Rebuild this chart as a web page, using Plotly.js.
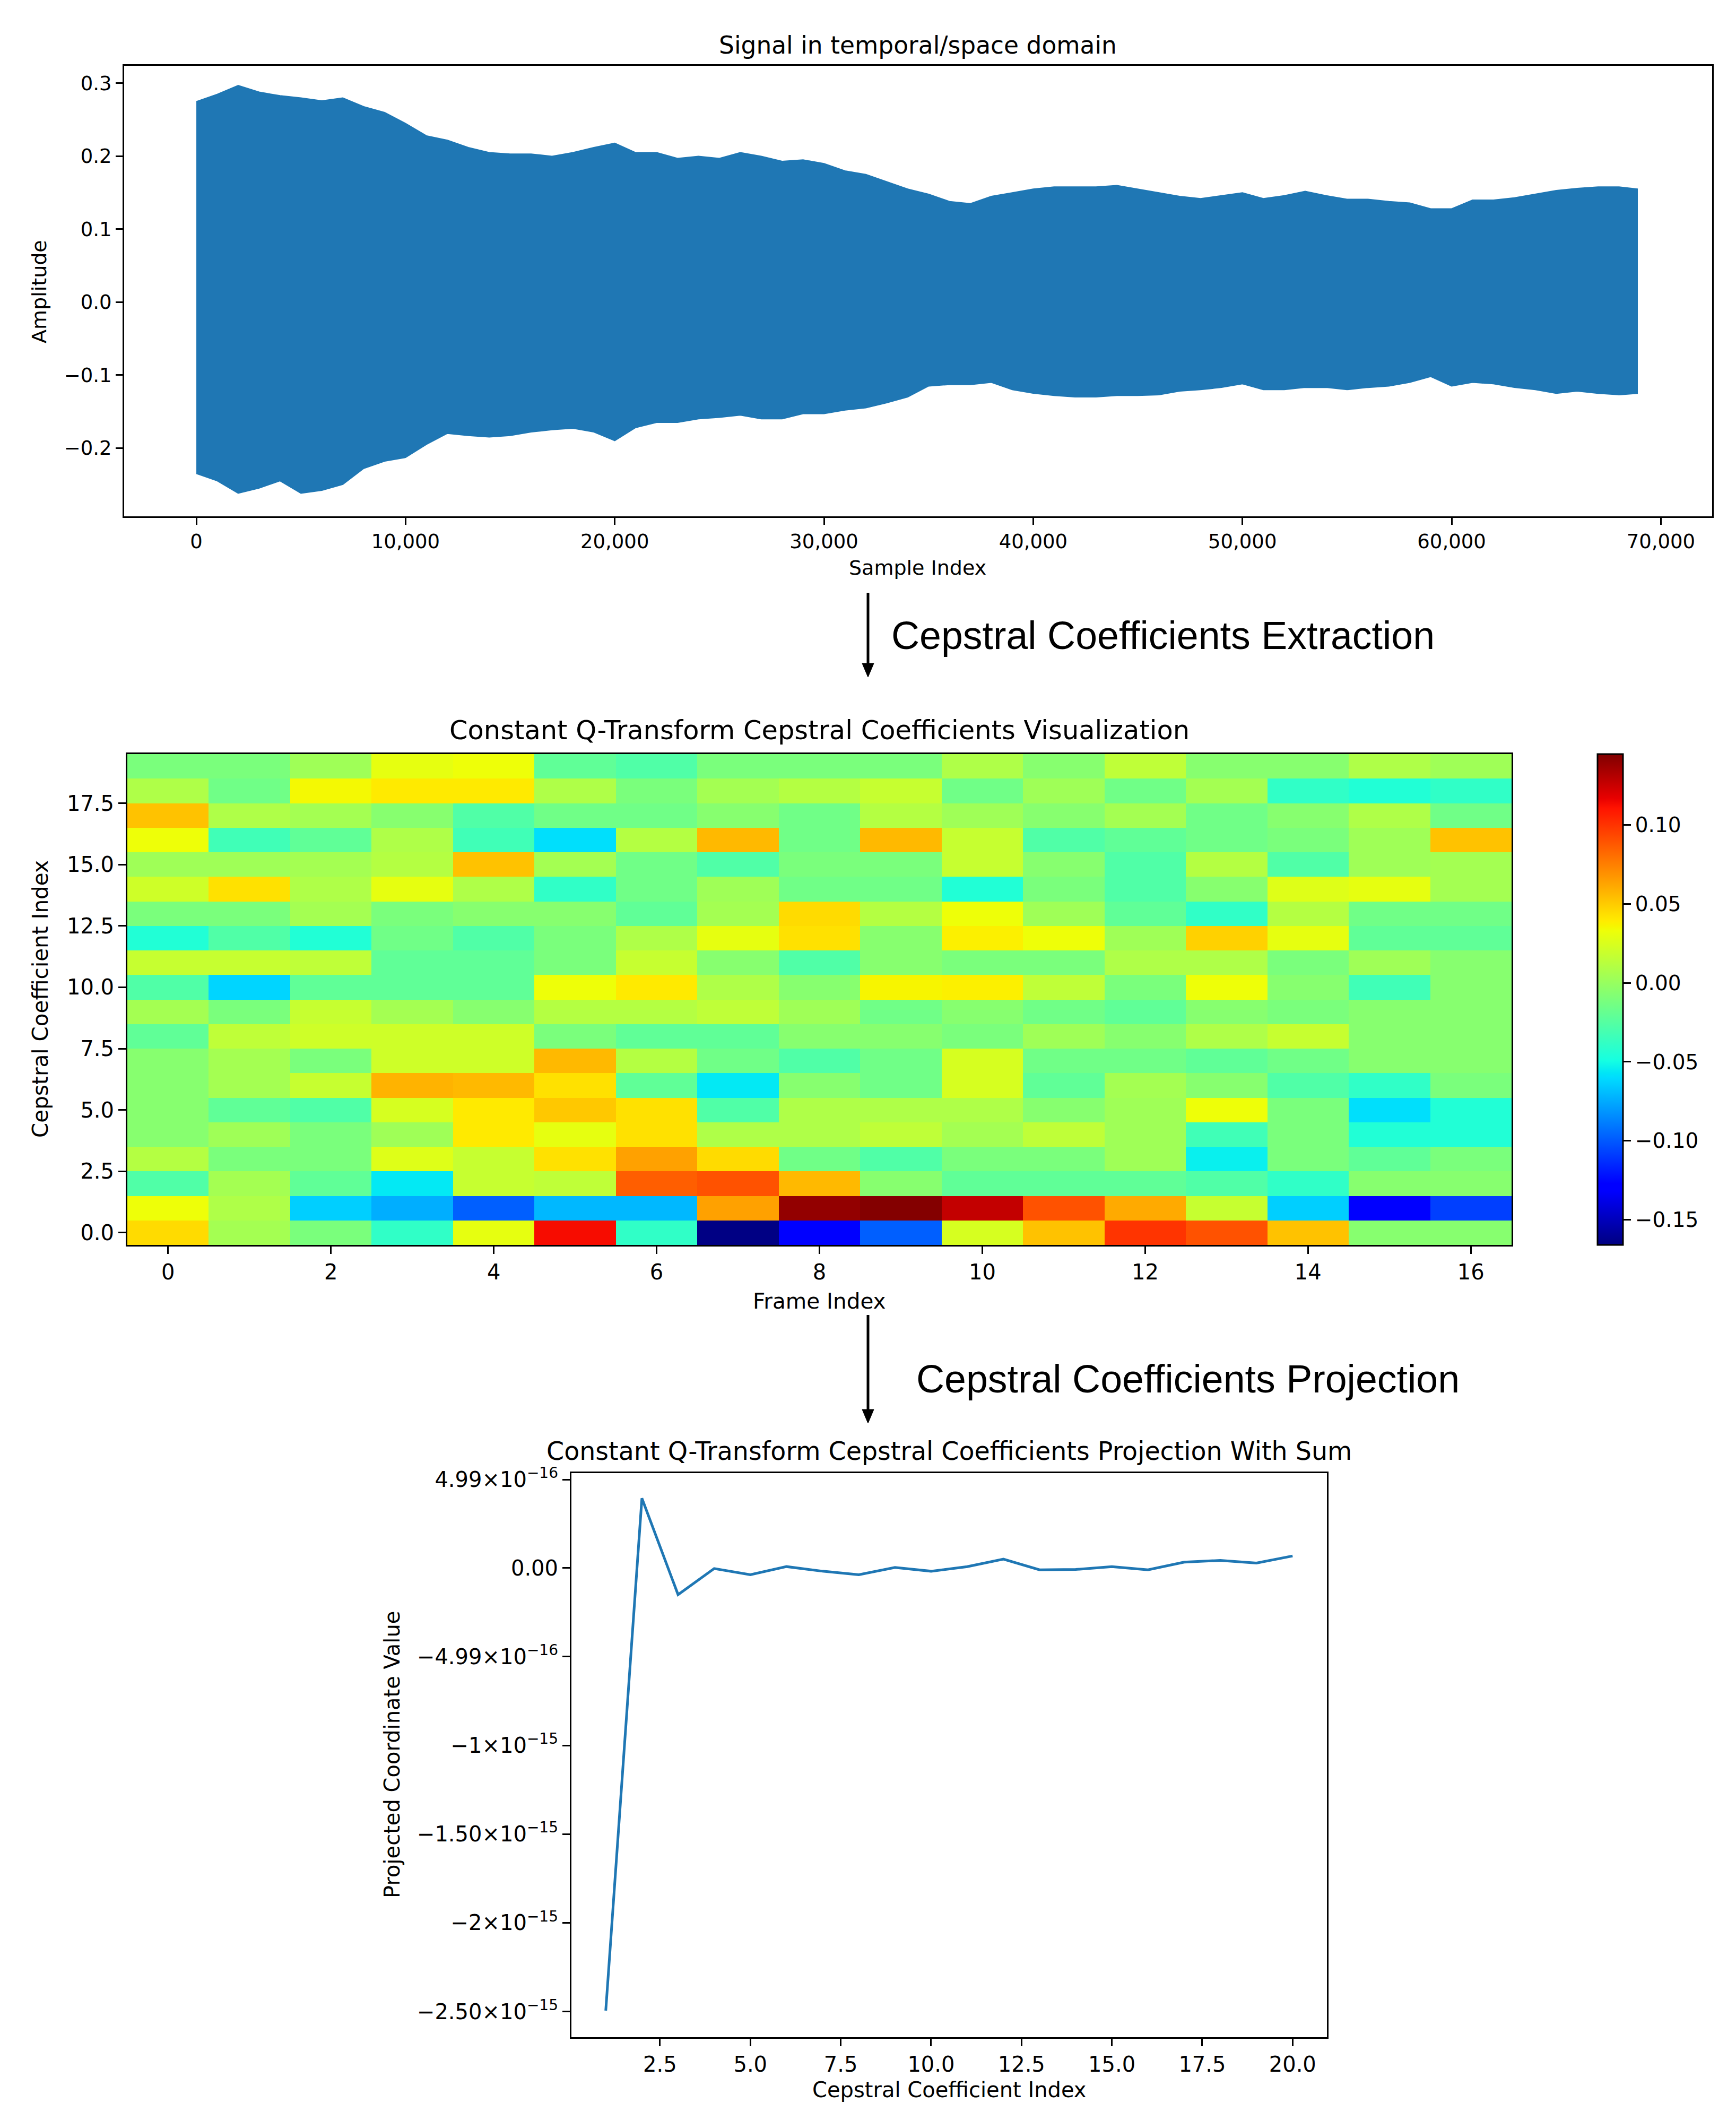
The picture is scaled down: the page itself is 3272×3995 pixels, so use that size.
<!DOCTYPE html>
<html><head><meta charset="utf-8">
<script src="https://cdn.plot.ly/plotly-3.0.1.min.js"></script>
<style>html,body{margin:0;padding:0;background:#fff}#chart{width:3272px;height:3995px}</style>
</head><body><div id="chart"></div>
<script>
const W = 3272, H = 3995;
const px = x => x / W, py = y => 1 - y / H;

// ---- Panel 1: signal envelope (peak values read per ~1000 samples) ----
const sampleIdx = [0,1000,2000,3000,4000,5000,6000,7000,8000,9000,10000,11000,12000,13000,14000,15000,16000,17000,18000,19000,
  20000,21000,22000,23000,24000,25000,26000,27000,28000,29000,30000,31000,32000,33000,34000,35000,36000,37000,38000,39000,
  40000,41000,42000,43000,44000,45000,46000,47000,48000,49000,50000,51000,52000,53000,54000,55000,56000,57000,58000,59000,
  60000,61000,62000,63000,64000,65000,66000,67000,68000,68900];
const upperEnv = [0.275,0.285,0.297,0.288,0.283,0.280,0.276,0.280,0.268,0.260,0.245,0.228,0.222,0.212,0.205,0.203,0.203,0.200,0.205,0.212,
  0.218,0.205,0.205,0.197,0.200,0.197,0.205,0.200,0.193,0.195,0.190,0.180,0.175,0.165,0.155,0.148,0.138,0.135,0.145,0.150,
  0.155,0.158,0.158,0.158,0.160,0.155,0.150,0.145,0.142,0.146,0.150,0.142,0.146,0.152,0.146,0.141,0.141,0.138,0.136,0.128,
  0.128,0.140,0.140,0.143,0.148,0.153,0.156,0.158,0.158,0.155];
const lowerEnv = [-0.235,-0.245,-0.262,-0.255,-0.245,-0.262,-0.258,-0.250,-0.228,-0.218,-0.213,-0.195,-0.180,-0.183,-0.185,-0.183,-0.178,-0.175,-0.173,-0.178,
  -0.190,-0.172,-0.165,-0.165,-0.160,-0.158,-0.155,-0.160,-0.160,-0.153,-0.153,-0.148,-0.145,-0.138,-0.130,-0.115,-0.113,-0.113,-0.110,-0.120,
  -0.125,-0.128,-0.130,-0.130,-0.128,-0.128,-0.127,-0.122,-0.120,-0.117,-0.112,-0.120,-0.120,-0.117,-0.117,-0.120,-0.117,-0.115,-0.110,-0.102,
  -0.115,-0.110,-0.112,-0.117,-0.120,-0.125,-0.122,-0.125,-0.127,-0.125];

// ---- Panel 2: CQCC heatmap (rows = coefficient index 0..19, cols = frame 0..16) ----
const frameIdx = [0,1,2,3,4,5,6,7,8,9,10,11,12,13,14,15,16];
const coeffIdx = [0,1,2,3,4,5,6,7,8,9,10,11,12,13,14,15,16,17,18,19];
const cqcc = [
  [0.045,0.005,-0.011,-0.039,0.030,0.113,-0.039,-0.165,-0.130,-0.098,0.024,0.053,0.100,0.090,0.053,-0.006,-0.006],
  [0.033,0.009,-0.064,-0.074,-0.098,-0.071,-0.071,0.064,0.140,0.144,0.127,0.090,0.061,0.018,-0.064,-0.130,-0.108],
  [-0.027,0.005,-0.021,-0.056,0.018,0.015,0.086,0.090,0.056,-0.006,-0.021,-0.021,-0.021,-0.027,-0.039,-0.006,-0.006],
  [0.011,-0.011,-0.011,0.027,0.018,0.043,0.064,0.045,-0.015,-0.027,-0.011,-0.011,0.003,-0.054,-0.011,-0.021,-0.011],
  [-0.006,0.003,-0.011,0.003,0.040,0.030,0.043,0.009,0.009,0.015,0.005,0.015,0.003,-0.033,-0.011,-0.045,-0.045],
  [-0.006,-0.021,-0.027,0.024,0.040,0.051,0.043,-0.027,0.009,0.009,0.009,-0.006,0.003,0.033,-0.011,-0.059,-0.045],
  [-0.006,0.005,0.018,0.058,0.056,0.043,-0.021,-0.056,-0.006,-0.015,0.024,-0.021,0.005,-0.006,-0.027,-0.039,-0.011],
  [-0.006,0.005,-0.011,0.021,0.021,0.056,0.011,-0.015,-0.027,-0.015,0.024,-0.015,-0.015,-0.021,-0.015,-0.006,-0.006],
  [-0.021,0.015,0.021,0.021,0.021,-0.011,-0.021,-0.021,-0.006,-0.006,-0.011,0.003,-0.006,0.009,0.018,-0.006,-0.006],
  [0.005,-0.011,0.018,0.005,-0.006,0.011,0.011,0.015,0.003,-0.015,-0.006,-0.015,-0.021,-0.006,-0.011,-0.006,-0.006],
  [-0.027,-0.062,-0.021,-0.021,-0.021,0.033,0.040,0.009,-0.006,0.036,0.038,0.015,-0.011,0.033,-0.006,-0.033,-0.006],
  [0.018,0.018,0.015,-0.021,-0.021,-0.011,0.018,-0.006,-0.027,-0.006,-0.011,-0.011,0.009,0.009,-0.011,0.003,-0.006],
  [-0.045,-0.027,-0.045,-0.015,-0.027,-0.011,0.009,0.030,0.043,-0.006,0.038,0.033,0.003,0.048,0.030,-0.021,-0.021],
  [-0.011,-0.011,0.005,-0.011,-0.006,-0.006,-0.021,0.005,0.045,0.011,0.033,0.003,-0.021,-0.039,0.011,-0.015,-0.015],
  [0.021,0.043,0.009,0.030,0.009,-0.039,-0.015,0.003,-0.015,-0.015,-0.045,-0.011,-0.027,-0.006,0.027,0.030,0.005],
  [0.003,0.003,0.005,0.011,0.053,0.005,-0.015,-0.027,-0.011,-0.011,0.018,-0.006,-0.027,0.011,-0.027,0.003,0.005],
  [0.033,-0.033,-0.021,0.009,-0.033,-0.059,0.011,0.056,-0.015,0.056,0.018,-0.027,-0.021,-0.015,-0.011,0.003,0.053],
  [0.053,0.009,0.005,-0.006,-0.027,-0.015,-0.015,-0.006,-0.015,0.011,0.003,-0.006,0.005,-0.015,-0.006,0.009,-0.015],
  [0.009,-0.015,0.035,0.040,0.040,0.009,-0.011,0.005,0.011,0.018,-0.015,0.003,-0.015,0.005,-0.039,-0.045,-0.039],
  [-0.011,-0.011,0.003,0.030,0.033,-0.021,-0.027,-0.011,-0.011,-0.011,0.009,-0.006,0.015,-0.006,-0.006,0.009,0.003]
];
const cbarTicks = [-0.15,-0.10,-0.05,0.00,0.05,0.10];

// ---- Panel 3: projection with sum ----
const projIdx = [1,2,3,4,5,6,7,8,9,10,11,12,13,14,15,16,17,18,19,20];
const projVal = [-24.95e-16,3.93e-16,-1.50e-16,-0.03e-16,-0.38e-16,0.08e-16,-0.18e-16,-0.38e-16,0.03e-16,-0.18e-16,
  0.08e-16,0.50e-16,-0.10e-16,-0.08e-16,0.08e-16,-0.10e-16,0.33e-16,0.43e-16,0.28e-16,0.68e-16];
const projTickVals = [4.99e-16,0,-4.99e-16,-1e-15,-1.5e-15,-2e-15,-2.5e-15];
const projTickText = ['4.99×10<sup>−16</sup>','0.00','−4.99×10<sup>−16</sup>','−1×10<sup>−15</sup>','−1.50×10<sup>−15</sup>','−2×10<sup>−15</sup>','−2.50×10<sup>−15</sup>'];

const jet = [[0,'rgb(0,0,128)'],[0.11,'rgb(0,0,255)'],[0.125,'rgb(0,0,255)'],[0.34,'rgb(0,219,255)'],[0.35,'rgb(0,229,247)'],
  [0.375,'rgb(21,255,226)'],[0.64,'rgb(238,255,8)'],[0.65,'rgb(247,245,0)'],[0.66,'rgb(255,236,0)'],[0.89,'rgb(255,19,0)'],
  [0.91,'rgb(232,0,0)'],[1,'rgb(128,0,0)']];

const FONT = 'DejaVu Sans';
const blue = '#1f77b4';

const traces = [
  {x: sampleIdx, y: upperEnv, type: 'scatter', mode: 'lines', line: {color: blue, width: 2}, xaxis: 'x', yaxis: 'y', hoverinfo: 'skip'},
  {x: sampleIdx, y: lowerEnv, type: 'scatter', mode: 'lines', line: {color: blue, width: 2}, fill: 'tonexty', fillcolor: blue, xaxis: 'x', yaxis: 'y', hoverinfo: 'skip'},
  {x: frameIdx, y: coeffIdx, z: cqcc, type: 'heatmap', colorscale: jet, zmin: -0.166, zmax: 0.145, xaxis: 'x2', yaxis: 'y2',
   colorbar: {x: px(3011), xanchor: 'left', xpad: 0, y: py(2346), yanchor: 'bottom', ypad: 0, len: (2346-1421)/H, lenmode: 'fraction',
     thickness: 48, thicknessmode: 'pixels', outlinewidth: 3, outlinecolor: '#000', tickvals: cbarTicks, tickformat: '.2f',
     ticks: 'outside', ticklen: 14, tickwidth: 3, tickcolor: '#000', tickfont: {family: FONT, size: 39, color: '#000'}}},
  {x: projIdx, y: projVal, type: 'scatter', mode: 'lines', line: {color: blue, width: 5}, xaxis: 'x3', yaxis: 'y3'}
];

function ax(extra) {
  return Object.assign({showline: true, mirror: true, linewidth: 3, linecolor: '#000', showgrid: false, zeroline: false,
    ticks: 'outside', tickwidth: 3, tickcolor: '#000', fixedrange: true}, extra);
}

// arrow helper: vertical arrow at x (px) from y0 to tip y1 (px)
function arrowShapes(x, y0, y1) {
  const headL = 26, headW = 11;
  return [
    {type: 'line', xref: 'paper', yref: 'paper', x0: px(x), x1: px(x), y0: py(y0), y1: py(y1 - headL + 2), line: {color: '#000', width: 5}},
    {type: 'path', xref: 'paper', yref: 'paper', fillcolor: '#000', line: {color: '#000', width: 1},
     path: `M ${px(x - headW)} ${py(y1 - headL)} L ${px(x + headW)} ${py(y1 - headL)} L ${px(x)} ${py(y1)} Z`}
  ];
}

const layout = {
  width: W, height: H, margin: {l: 0, r: 0, t: 0, b: 0}, paper_bgcolor: '#fff', plot_bgcolor: '#fff', showlegend: false,
  font: {family: FONT, color: '#000', size: 38},
  xaxis: ax({domain: [px(234), px(3227)], anchor: 'y', range: [-3450, 72450], tick0: 0, dtick: 10000, tickformat: ',d', ticklen: 13,
    tickfont: {family: FONT, size: 37, color: '#000'}}),
  yaxis: ax({domain: [py(973), py(124)], anchor: 'x', range: [-0.2937, 0.324], tick0: 0, dtick: 0.1, tickformat: '.1f', ticklen: 13,
    tickfont: {family: FONT, size: 37, color: '#000'}}),
  xaxis2: ax({domain: [px(240), px(2849)], anchor: 'y2', range: [-0.5, 16.5], tick0: 0, dtick: 2, ticklen: 14,
    tickfont: {family: FONT, size: 40, color: '#000'}}),
  yaxis2: ax({domain: [py(2346), py(1421)], anchor: 'x2', range: [-0.5, 19.5], tick0: 0, dtick: 2.5, tickformat: '.1f', ticklen: 14,
    tickfont: {family: FONT, size: 40, color: '#000'}}),
  xaxis3: ax({domain: [px(1077), px(2501)], anchor: 'y3', range: [0.05, 20.95], tick0: 0, dtick: 2.5, tickformat: '.1f', ticklen: 14,
    tickfont: {family: FONT, size: 40, color: '#000'}}),
  yaxis3: ax({domain: [py(3839), py(2776)], anchor: 'x3', range: [-26.45e-16, 5.35e-16], tickvals: projTickVals, ticktext: projTickText,
    ticklen: 14, tickfont: {family: FONT, size: 40, color: '#000'}}),
  shapes: [...arrowShapes(1636, 1117, 1276), ...arrowShapes(1636, 2478, 2682)],
  annotations: [
    {text: 'Signal in temporal/space domain', x: px(1730), y: py(85), font: {size: 45.5}},
    {text: 'Sample Index', x: px(1730), y: py(1070), font: {size: 38}},
    {text: 'Amplitude', x: px(74), y: py(550), textangle: -90, font: {size: 38}},
    {text: 'Constant Q-Transform Cepstral Coefficients Visualization', x: px(1544), y: py(1376), font: {size: 49.5}},
    {text: 'Frame Index', x: px(1544), y: py(2452), font: {size: 40.5}},
    {text: 'Cepstral Coefficient Index', x: px(76), y: py(1883), textangle: -90, font: {size: 40.5}},
    {text: 'Constant Q-Transform Cepstral Coefficients Projection With Sum', x: px(1789), y: py(2734), font: {size: 47.5}},
    {text: 'Cepstral Coefficient Index', x: px(1789), y: py(3938), font: {size: 40}},
    {text: 'Projected Coordinate Value', x: px(739), y: py(3307), textangle: -90, font: {size: 40}},
    {text: 'Cepstral Coefficients Extraction', x: px(1678), y: py(1197), xanchor: 'left', font: {family: 'Liberation Sans', size: 73.5}},
    {text: 'Cepstral Coefficients Projection', x: px(1725), y: py(2598), xanchor: 'left', font: {family: 'Liberation Sans', size: 73.5}}
  ].map(a => Object.assign({xref: 'paper', yref: 'paper', showarrow: false, xanchor: 'center', yanchor: 'middle'}, a,
        {font: Object.assign({family: FONT, color: '#000'}, a.font)}))
};

Plotly.newPlot('chart', traces, layout, {displayModeBar: false, staticPlot: true});
</script>
</body></html>
